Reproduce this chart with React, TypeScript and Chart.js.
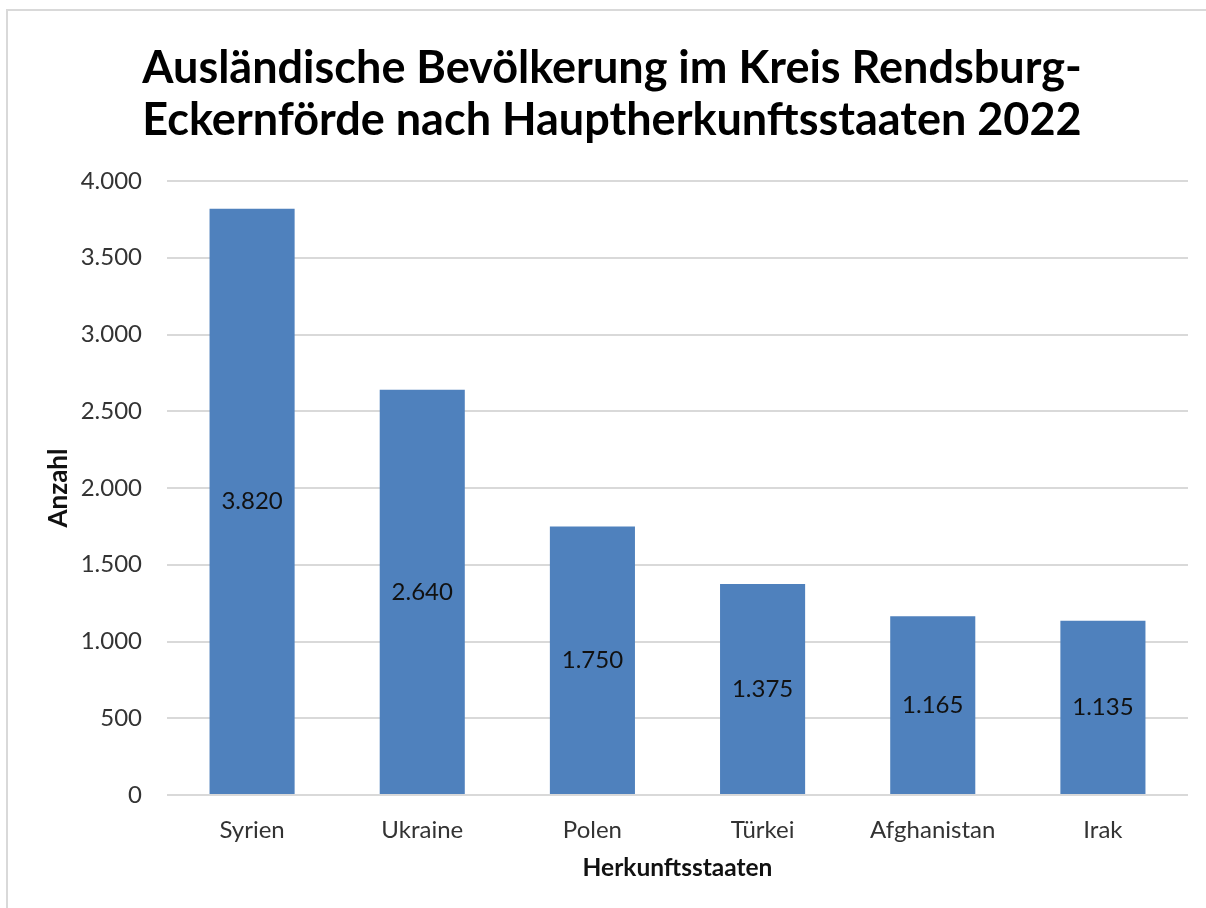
import React, { useEffect, useRef } from "react";
import { Chart, registerables } from "chart.js";

Chart.register(...registerables);

const categories = ["Syrien", "Ukraine", "Polen", "Türkei", "Afghanistan", "Irak"];
const values = [3820, 2640, 1750, 1375, 1165, 1135];
const titleLines = [
  "Ausländische Bevölkerung im Kreis Rendsburg-",
  "Eckernförde nach Hauptherkunftsstaaten 2022",
];
const yAxisTitle = "Anzahl";
const xAxisTitle = "Herkunftsstaaten";
const yMin = 0;
const yMax = 4000;
const yStep = 500;

const FONT = "Lato";
const fmt = (v: number) => String(Math.round(v)).replace(/\B(?=(\d{3})+(?!\d))/g, ".");

const framePlugin = {
  id: "frame",
  beforeDraw(chart: any) {
    const ctx = chart.ctx;
    ctx.save();
    ctx.fillStyle = "#ffffff";
    ctx.fillRect(0, 0, chart.width, chart.height);
    ctx.strokeStyle = "#d9d9d9";
    ctx.lineWidth = 2;
    ctx.strokeRect(7, 10, chart.width + 20, chart.height + 20);
    ctx.restore();
  },
};

const labelPlugin = {
  id: "centerLabels",
  afterDatasetsDraw(chart: any) {
    const ctx = chart.ctx;
    const meta = chart.getDatasetMeta(0);
    ctx.save();
    ctx.font = `24px ${FONT}`;
    ctx.fillStyle = "#111111";
    ctx.textAlign = "center";
    ctx.textBaseline = "middle";
    meta.data.forEach((bar: any, i: number) => {
      const { x, y, base } = bar.getProps(["x", "y", "base"], true);
      ctx.fillText(fmt(values[i]), x, (y + base) / 2);
    });
    ctx.restore();
  },
};

export default function App() {
  const ref = useRef<HTMLCanvasElement | null>(null);

  useEffect(() => {
    if (!ref.current) return;
    const chart = new Chart(ref.current, {
      type: "bar",
      data: {
        labels: categories,
        datasets: [
          {
            data: values,
            backgroundColor: "#4F81BD",
            barPercentage: 0.5,
            categoryPercentage: 1,
          },
        ],
      },
      options: {
        animation: false,
        responsive: false,
        maintainAspectRatio: false,
        layout: { padding: { left: 36, right: 18, top: 10, bottom: 25 } },
        plugins: {
          legend: { display: false },
          tooltip: { enabled: false },
          title: {
            display: true,
            text: titleLines,
            color: "#000000",
            font: { family: FONT, size: 45, weight: "bold", lineHeight: 1.16 },
            padding: { top: 32, bottom: 34.6 },
          },
        },
        scales: {
          x: {
            grid: { display: false, drawTicks: false },
            border: { display: false },
            ticks: { color: "#333333", font: { family: FONT, size: 24 }, padding: 21 },
            title: {
              display: true,
              text: xAxisTitle,
              color: "#111111",
              font: { family: FONT, size: 24.5, weight: "bold", lineHeight: 1.2 },
              padding: { top: 0, bottom: 0 },
            },
            afterFit: (s: any) => {
              s.height = 88;
            },
          },
          y: {
            min: yMin,
            max: yMax,
            grid: { color: "#d9d9d9", lineWidth: 2, drawTicks: false },
            border: { display: false },
            ticks: {
              stepSize: yStep,
              color: "#333333",
              font: { family: FONT, size: 24 },
              padding: 25,
              callback: (v: any) => fmt(Number(v)),
            },
            title: {
              display: true,
              text: yAxisTitle,
              color: "#111111",
              font: { family: FONT, size: 26, weight: "bold", lineHeight: 1.2 },
              padding: { top: 7, bottom: 0 },
            },
            afterFit: (s: any) => {
              s.width = 131;
            },
          },
        },
      },
      plugins: [framePlugin, labelPlugin],
    });
    return () => chart.destroy();
  }, []);

  return (
    <div style={{ position: "fixed", left: 0, top: 0, width: 1206, height: 908 }}>
      <canvas ref={ref} width={1206} height={908} style={{ display: "block" }} />
    </div>
  );
}
